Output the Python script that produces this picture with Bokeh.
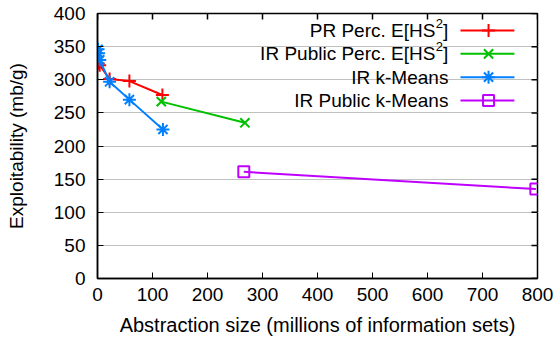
from bokeh.plotting import figure
from bokeh.models import SingleIntervalTicker, Range1d
from bokeh.embed import file_html
from bokeh.resources import INLINE
from bokeh.core.properties import value

# ---- data ----
pr_x = [1, 4, 22, 58, 118]
pr_y = [325, 322, 301, 298, 277]

irp_x = [116, 268]
irp_y = [267, 235]

irk_x = [1, 2, 4, 22, 58, 119]
irk_y = [346, 340, 330, 297, 270, 225]

irpk_x = [266, 797]
irpk_y = [161, 135]

names_main = ["PR Perc. E[HS", "IR Public Perc. E[HS", "IR k-Means", "IR Public k-Means"]
has_sup = [True, True, False, False]
colors = ["#ff0000", "#00c000", "#0080ff", "#c000ff"]
markers = ["cross", "x", "asterisk", "square"]

x_ticks = list(range(0, 801, 100))
y_ticks = list(range(0, 401, 50))

FONT = "Liberation Sans"
FS = "19px"

p = figure(width=556, height=349, output_backend="svg", toolbar_location=None,
           x_range=Range1d(0, 800), y_range=Range1d(0, 400),
           min_border_left=97, min_border_right=19, min_border_top=13, min_border_bottom=71,
           x_axis_label="Abstraction size (millions of information sets)",
           y_axis_label="Exploitability (mb/g)")

p.xgrid.visible = False
p.ygrid.grid_line_color = "#c0c0c0"
p.ygrid.grid_line_width = 1
p.ygrid.ticker = SingleIntervalTicker(interval=50)
p.outline_line_color = "black"
p.outline_line_width = 1.5
p.background_fill_color = "white"
p.border_fill_color = "white"

for ax in (p.xaxis[0], p.yaxis[0]):
    ax.major_tick_in = 6
    ax.major_tick_out = 0
    ax.minor_tick_in = 0
    ax.minor_tick_out = 0
    ax.axis_line_color = "black"
    ax.axis_line_width = 1.5
    ax.major_label_text_font = FONT
    ax.major_label_text_font_size = FS
    ax.major_label_text_color = "black"
    ax.axis_label_text_font = FONT
    ax.axis_label_text_font_size = FS
    ax.axis_label_text_font_style = "normal"
    ax.axis_label_text_color = "black"

p.xaxis[0].axis_label_text_font_size = "20px"
p.xaxis[0].ticker = SingleIntervalTicker(interval=100)
p.yaxis[0].ticker = SingleIntervalTicker(interval=50)
p.xaxis[0].major_label_standoff = 9
p.yaxis[0].major_label_standoff = 12
p.xaxis[0].axis_label_standoff = 10
p.yaxis[0].axis_label_standoff = 24

# mirrored inward ticks on top and right edges
tick_dy = 6 * 400 / 265
tick_dx = 6 * 800 / 440
p.segment(x0=x_ticks, y0=[400] * len(x_ticks), x1=x_ticks, y1=[400 - tick_dy] * len(x_ticks),
          line_color="black", line_width=1.5)
p.segment(x0=[800] * len(y_ticks), y0=y_ticks, x1=[800 - tick_dx] * len(y_ticks), y1=y_ticks,
          line_color="black", line_width=1.5)

series = [(pr_x, pr_y), (irp_x, irp_y), (irk_x, irk_y), (irpk_x, irpk_y)]
for (xs, ys), c, m in zip(series, colors, markers):
    p.line(xs, ys, line_color=c, line_width=2)
    if m == "square":
        p.scatter(xs, ys, marker=m, size=11, line_color=c, fill_color=None, line_width=2)
    else:
        p.scatter(xs, ys, marker=m, size=13, line_color=c, line_width=2)

# ---- manual legend (text to the left of the sample, gnuplot style) ----
leg_text_x = 638
leg_x0, leg_x1, leg_xm = 660, 758, 711
leg_y = [374.3, 339.1, 303.9, 268.7]
for yy, name, sup, c, m in zip(leg_y, names_main, has_sup, colors, markers):
    if sup:
        p.text(x=[leg_text_x], y=[yy], text=["]"], text_align="right", text_baseline="middle",
               text_font=value(FONT), text_font_size=FS, text_color="black")
        p.text(x=[leg_text_x], y=[yy], text=["2"], text_align="right", text_baseline="middle",
               x_offset=-5.5, y_offset=-7,
               text_font=value(FONT), text_font_size="13px", text_color="black")
        p.text(x=[leg_text_x], y=[yy], text=[name], text_align="right", text_baseline="middle",
               x_offset=-13,
               text_font=value(FONT), text_font_size=FS, text_color="black")
    else:
        p.text(x=[leg_text_x], y=[yy], text=[name], text_align="right", text_baseline="middle",
               text_font=value(FONT), text_font_size=FS, text_color="black")
    p.line([leg_x0, leg_x1], [yy, yy], line_color=c, line_width=2)
    if m == "square":
        p.scatter([leg_xm], [yy], marker=m, size=11, line_color=c, fill_color=None, line_width=2)
    else:
        p.scatter([leg_xm], [yy], marker=m, size=13, line_color=c, line_width=2)

open("out.html", "w").write(file_html(p, INLINE))
